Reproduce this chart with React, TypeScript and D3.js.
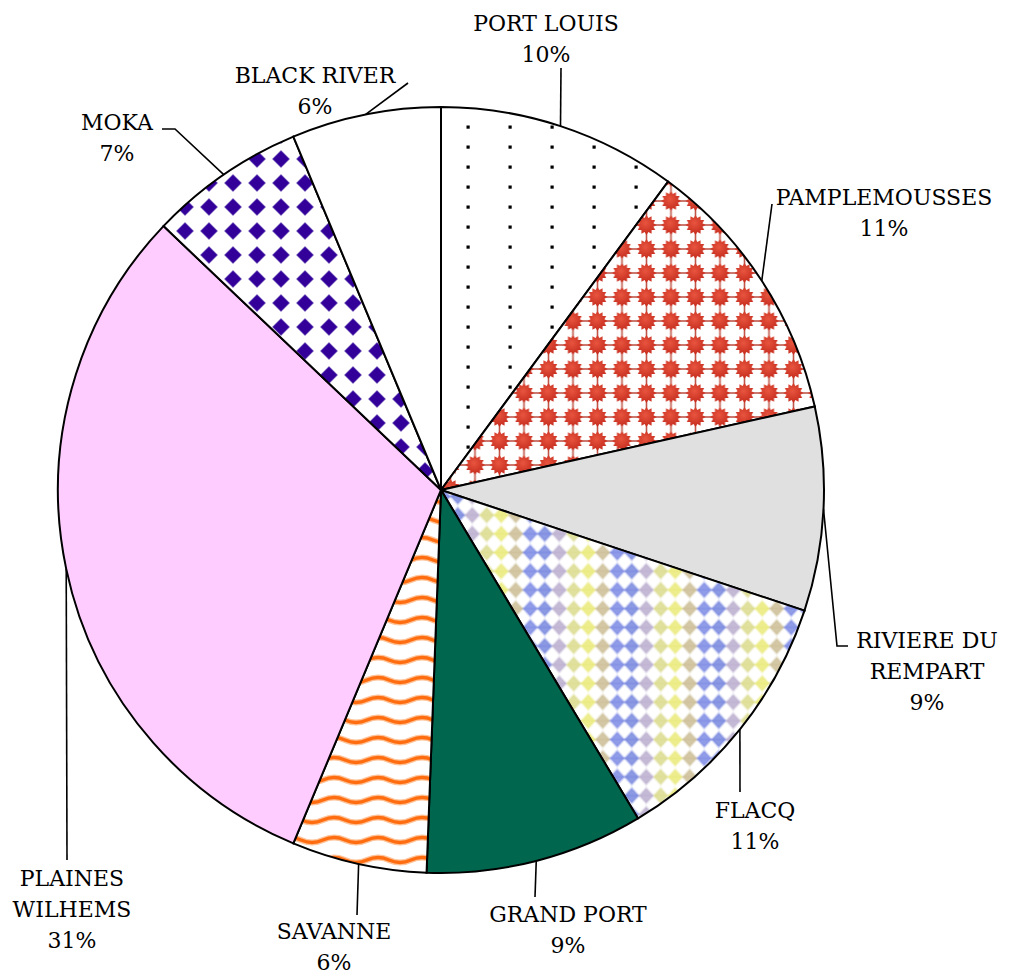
import React from "react";
import * as d3 from "d3";

// ---- data ----
const categories = [
  "PORT LOUIS",
  "PAMPLEMOUSSES",
  "RIVIERE DU REMPART",
  "FLACQ",
  "GRAND PORT",
  "SAVANNE",
  "PLAINES WILHEMS",
  "MOKA",
  "BLACK RIVER",
];
const shares = [10.1, 11.4, 8.6, 11.3, 9.2, 5.7, 30.8, 6.6, 6.3];

// ---- layout / style (not data) ----
const W = 1014;
const H = 975;
const CX = 441;
const CY = 490;
const R = 383;
const FONT = "'DejaVu Serif', serif";
const FS = 22;
const LH = 31;

const fills = [
  "url(#patPL)",
  "url(#patPA)",
  "#e0e0e0",
  "url(#patFL)",
  "#00664e",
  "url(#patSA)",
  "#ffccff",
  "url(#patMO)",
  "#ffffff",
];

// label anchor: text centre x, first baseline y, number of words on first line, leader bend points
const labelLayout = [
  { x: 546, y: 31, breakAfter: 0, leader: [[561, 68]] },
  { x: 884, y: 205, breakAfter: 0, leader: [[772, 204]] },
  { x: 927, y: 648, breakAfter: 2, leader: [[837, 646], [848, 646]] },
  { x: 755, y: 818, breakAfter: 0, leader: [[740, 792]] },
  { x: 568, y: 922, breakAfter: 0, leader: [[535, 897]] },
  { x: 334, y: 939, breakAfter: 0, leader: [[357, 915]] },
  { x: 72, y: 886, breakAfter: 1, leader: [[67, 860]] },
  { x: 117, y: 130, breakAfter: 0, leader: [[175, 129], [162, 129]] },
  { x: 315, y: 83, breakAfter: 0, leader: [[408, 83]] },
];

const flacqColors = ["#d9d987", "#e8e872", "#c9b98f", "#7483e2", "#6f7fdc", "#b7a9cc"];

function starPoints(cx: number, cy: number, ro: number, ri: number, n: number) {
  const pts: string[] = [];
  for (let i = 0; i < n * 2; i++) {
    const a = (Math.PI * i) / n;
    const r = i % 2 === 0 ? ro : ri;
    pts.push(`${cx + r * Math.cos(a)},${cy + r * Math.sin(a)}`);
  }
  return pts.join(" ");
}

export default function App() {
  const pie = d3.pie<number>().sort(null).value((d) => d).startAngle(0).endAngle(2 * Math.PI);
  const arcs = pie(shares);
  const arcGen = d3.arc<d3.PieArcDatum<number>>().innerRadius(0).outerRadius(R);
  const edgeGen = d3.arc<d3.PieArcDatum<number>>().innerRadius(R).outerRadius(R);
  const total = d3.sum(shares);

  return (
    <svg
      width={W}
      height={H}
      style={{ position: "absolute", left: 0, top: 0, background: "#fff" }}
    >
      <defs>
        <pattern id="patPL" patternUnits="userSpaceOnUse" x={426} y={107} width={42} height={20}>
          <rect width={42} height={20} fill="#fff" />
          <rect x={19.5} y={8.5} width={3.2} height={3.2} fill="#000" />
        </pattern>
        <radialGradient id="gradPA" cx="45%" cy="40%" r="60%">
          <stop offset="0%" stopColor="#e8553f" />
          <stop offset="100%" stopColor="#c42a1c" />
        </radialGradient>
        <pattern id="patPA" patternUnits="userSpaceOnUse" x={560.75} y={323} width={24.5} height={24}>
          <rect width={24.5} height={24} fill="#fff" />
          <line x1={0} y1={12} x2={24.5} y2={12} stroke="#c0564a" strokeWidth={1.6} />
          <line x1={12.25} y1={0} x2={12.25} y2={24} stroke="#c0564a" strokeWidth={1.6} />
          <polygon points={starPoints(12.25, 12, 10, 7.2, 12)} fill="url(#gradPA)" />
        </pattern>
        <pattern id="patFL" patternUnits="userSpaceOnUse" x={560.5} y={595.5} width={87} height={18.7}>
          <rect width={87} height={18.7} fill="#fff" />
          {flacqColors.map((c, i) => {
            const cx = 7.25 + i * 14.5;
            const cy = 9.35;
            return (
              <g key={i}>
                <line x1={cx - 7.25} y1={cy} x2={cx + 7.25} y2={cy} stroke={c} strokeOpacity={0.35} strokeWidth={2} />
                <polygon
                  points={`${cx},${cy - 7.5} ${cx + 6.8},${cy} ${cx},${cy + 7.5} ${cx - 6.8},${cy}`}
                  fill={c}
                  fillOpacity={0.8}
                  stroke={c}
                  strokeOpacity={0.3}
                  strokeWidth={2.5}
                />
              </g>
            );
          })}
        </pattern>
        <pattern id="patSA" patternUnits="userSpaceOnUse" x={300} y={500} width={44} height={20}>
          <rect width={44} height={20} fill="#fff" />
          <path d="M-22 10 Q -11 5 0 10 T 22 10 T 44 10 T 66 10" fill="none" stroke="#ffc49a" strokeWidth={6} />
          <path d="M-22 10 Q -11 5 0 10 T 22 10 T 44 10 T 66 10" fill="none" stroke="#ff6d10" strokeWidth={3.4} />
        </pattern>
        <pattern id="patMO" patternUnits="userSpaceOnUse" x={236} y={161} width={24} height={24}>
          <rect width={24} height={24} fill="#fff" />
          <polygon points="12,3.5 20.5,12 12,20.5 3.5,12" fill="#330099" stroke="#6a4fb8" strokeWidth={1} strokeOpacity={0.6} />
        </pattern>
      </defs>

      <rect width={W} height={H} fill="#fff" />

      <g transform={`translate(${CX},${CY})`}>
        {arcs.map((a, i) => (
          <path key={categories[i]} d={arcGen(a) || ""} fill={fills[i]} stroke="#000" strokeWidth={2} />
        ))}
      </g>

      {arcs.map((a, i) => {
        const [ex, ey] = edgeGen.centroid(a);
        const lay = labelLayout[i];
        const pts: [number, number][] = [[CX + ex, CY + ey], ...(lay.leader as [number, number][])];
        const line = d3.line()(pts) || "";
        const words = categories[i].split(" ");
        const lines =
          lay.breakAfter > 0
            ? [words.slice(0, lay.breakAfter).join(" "), words.slice(lay.breakAfter).join(" ")]
            : [categories[i]];
        lines.push(`${Math.round((shares[i] / total) * 100)}%`);
        return (
          <g key={"lab" + i}>
            <path d={line} fill="none" stroke="#000" strokeWidth={1.6} />
            <text
              x={lay.x}
              y={lay.y}
              textAnchor="middle"
              style={{ fontFamily: FONT, fontSize: FS }}
              fill="#000"
            >
              {lines.map((t, j) => (
                <tspan key={j} x={lay.x} y={lay.y + j * LH}>
                  {t}
                </tspan>
              ))}
            </text>
          </g>
        );
      })}
    </svg>
  );
}
